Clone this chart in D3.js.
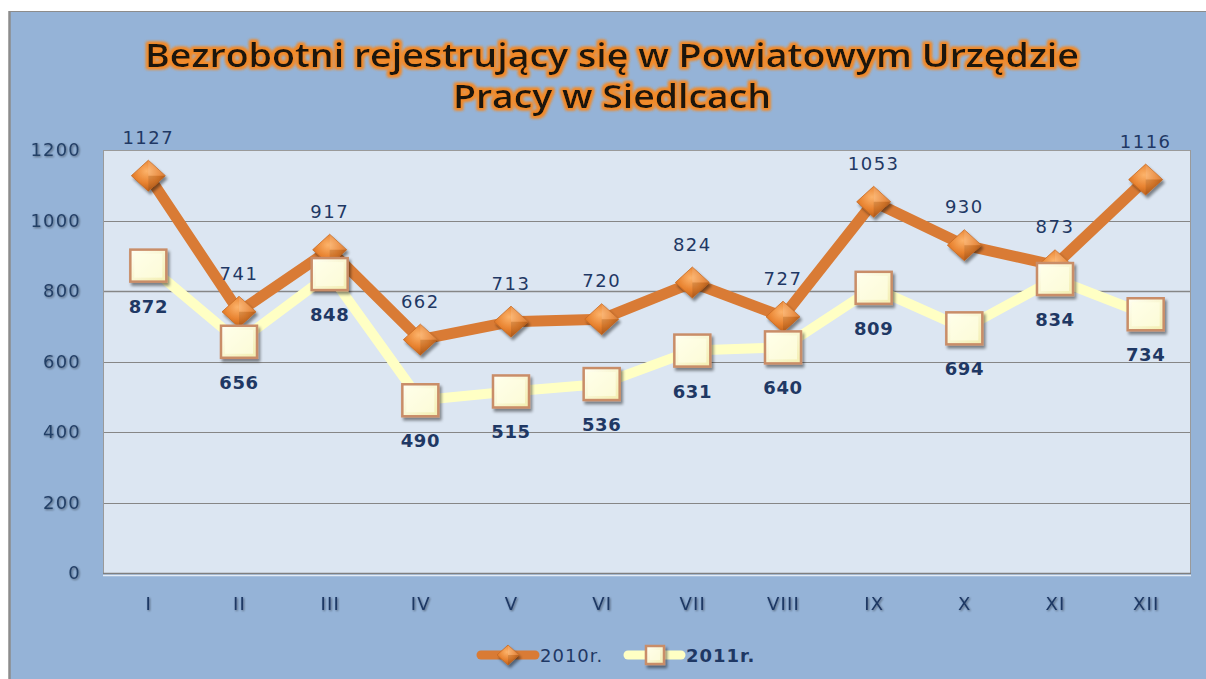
<!DOCTYPE html>
<html><head><meta charset="utf-8">
<script src="https://cdn.jsdelivr.net/npm/d3@7"></script>
<style>html,body{margin:0;padding:0;background:#fff;}svg{display:block;}</style>
</head><body>
<script>
const categories = ["I","II","III","IV","V","VI","VII","VIII","IX","X","XI","XII"];
const values2010 = [1127,741,917,662,713,720,824,727,1053,930,873,1116];
const values2011 = [872,656,848,490,515,536,631,640,809,694,834,734];
const yTicks = [0,200,400,600,800,1000,1200];
const seriesNames = ["2010r.","2011r."];
const titleLines = ["Bezrobotni rejestrujący się w Powiatowym Urzędzie","Pracy w Siedlcach"];

const W=1206,H=679;
const svg=d3.select("body").append("svg").attr("width",W).attr("height",H);
const defs=svg.append("defs");

// filters
const glow=defs.append("filter").attr("id","glow").attr("x","-5%").attr("y","-30%").attr("width","110%").attr("height","160%");
glow.append("feMorphology").attr("in","SourceAlpha").attr("operator","dilate").attr("radius",1.5).attr("result","d");
glow.append("feGaussianBlur").attr("in","d").attr("stdDeviation",1.5).attr("result","b");
glow.append("feFlood").attr("flood-color","#f28a2a").attr("result","f");
glow.append("feComposite").attr("in","f").attr("in2","b").attr("operator","in").attr("result","g");
const gm=glow.append("feMerge");gm.append("feMergeNode").attr("in","g");gm.append("feMergeNode").attr("in","g");gm.append("feMergeNode").attr("in","SourceGraphic");

const sh=defs.append("filter").attr("id","tshadow").attr("x","-20%").attr("y","-30%").attr("width","150%").attr("height","170%");
sh.append("feGaussianBlur").attr("in","SourceAlpha").attr("stdDeviation",0.8).attr("result","b");
sh.append("feOffset").attr("in","b").attr("dx",1).attr("dy",1.2).attr("result","o");
sh.append("feComponentTransfer").attr("in","o").attr("result","o2").append("feFuncA").attr("type","linear").attr("slope",0.45);
const sm=sh.append("feMerge");sm.append("feMergeNode").attr("in","o2");sm.append("feMergeNode").attr("in","SourceGraphic");

const msh=defs.append("filter").attr("id","mshadow").attr("x","-40%").attr("y","-40%").attr("width","190%").attr("height","190%");
msh.append("feGaussianBlur").attr("in","SourceAlpha").attr("stdDeviation",1.5).attr("result","b");
msh.append("feOffset").attr("in","b").attr("dx",2).attr("dy",2.5).attr("result","o");
msh.append("feComponentTransfer").attr("in","o").attr("result","o2").append("feFuncA").attr("type","linear").attr("slope",0.45);
const mm=msh.append("feMerge");mm.append("feMergeNode").attr("in","o2");mm.append("feMergeNode").attr("in","SourceGraphic");

const dg=defs.append("radialGradient").attr("id","dgrad").attr("cx","45%").attr("cy","35%").attr("r","70%");
dg.append("stop").attr("offset","0%").attr("stop-color","#fcb36b");
dg.append("stop").attr("offset","55%").attr("stop-color","#e8822f");
dg.append("stop").attr("offset","100%").attr("stop-color","#b85a17");

const sg=defs.append("linearGradient").attr("id","sgrad").attr("x1","0").attr("y1","0").attr("x2","1").attr("y2","1");
sg.append("stop").attr("offset","0%").attr("stop-color","#fffff4");
sg.append("stop").attr("offset","100%").attr("stop-color","#f3eeb0");

// background
svg.append("rect").attr("x",0).attr("y",0).attr("width",W).attr("height",H).attr("fill","#fff");
svg.append("rect").attr("x",9).attr("y",11).attr("width",W-9).attr("height",H-11).attr("fill","#95b3d7");
svg.append("line").attr("x1",9.5).attr("x2",9.5).attr("y1",11).attr("y2",H).attr("stroke","#8c8c8c").attr("stroke-width",2.5);
svg.append("line").attr("x1",9).attr("x2",W).attr("y1",11.5).attr("y2",11.5).attr("stroke","#8c8c8c").attr("stroke-width",1.2);

// title
const title=svg.append("g").attr("filter","url(#glow)");
title.append("text").attr("x",612).attr("y",67).attr("text-anchor","middle")
  .attr("font-family","Open Sans").attr("font-weight",600).attr("font-size",32).attr("fill","#1a1208")
  .attr("textLength",934).attr("lengthAdjust","spacingAndGlyphs").text(titleLines[0]);
title.append("text").attr("x",612).attr("y",108).attr("text-anchor","middle")
  .attr("font-family","Open Sans").attr("font-weight",600).attr("font-size",32).attr("fill","#1a1208")
  .attr("textLength",318).attr("lengthAdjust","spacingAndGlyphs").text(titleLines[1]);

// plot
const L=103,R=1191,T=150,B=573;
const x=d3.scalePoint().domain(categories).range([L,R]).padding(0.5);
const y=d3.scaleLinear().domain([0,1200]).range([B,T]);

svg.append("rect").attr("x",L).attr("y",T).attr("width",R-L).attr("height",B-T).attr("fill","#dce6f2");
svg.append("g").selectAll("line").data(yTicks.filter(d=>d>0&&d<1200)).join("line")
  .attr("x1",L).attr("x2",R).attr("y1",d=>Math.round(y(d))+0.5).attr("y2",d=>Math.round(y(d))+0.5)
  .attr("stroke","#868686").attr("stroke-width",d=>d===800?1.6:1);
svg.append("rect").attr("x",L+0.5).attr("y",T+0.5).attr("width",R-L-1).attr("height",B-T).attr("fill","none").attr("stroke","#9a9a9a");
svg.append("line").attr("x1",L).attr("x2",R).attr("y1",B+0.5).attr("y2",B+0.5).attr("stroke","#7f7f7f").attr("stroke-width",1.5);
svg.append("line").attr("x1",L).attr("x2",R).attr("y1",B+2.5).attr("y2",B+2.5).attr("stroke","#e4ecf6").attr("stroke-width",1.5);

// axes via d3
const yAxis=svg.append("g").attr("transform",`translate(${L},0)`).call(d3.axisLeft(y).tickValues(yTicks).tickFormat(d3.format("d")).tickSize(0).tickPadding(22));
yAxis.select(".domain").remove();
yAxis.selectAll("text").attr("font-family","DejaVu Sans").attr("font-size",18).attr("letter-spacing",1.2).attr("fill","#243f66").attr("filter","url(#tshadow)");
const xAxis=svg.append("g").attr("transform",`translate(0,${B})`).call(d3.axisBottom(x).tickSize(0).tickPadding(24));
xAxis.select(".domain").remove();
xAxis.selectAll("text").attr("font-family","DejaVu Sans").attr("font-size",18).attr("letter-spacing",1.2).attr("fill","#1f3864").attr("filter","url(#tshadow)");

// lines
const line=d3.line().x((d,i)=>x(categories[i])).y(d=>y(d));
svg.append("path").attr("d",line(values2010)).attr("fill","none").attr("stroke","#d97b35").attr("stroke-width",11).attr("stroke-linejoin","round");
function diamond(g,cx,cy,w,h){
  g.append("path").attr("d",`M${cx},${cy-h/2}L${cx+w/2},${cy}L${cx},${cy+h/2}L${cx-w/2},${cy}Z`)
   .attr("fill","url(#dgrad)").attr("stroke","#c66a22").attr("stroke-width",0.8).attr("filter","url(#mshadow)");
  g.append("path").attr("d",`M${cx},${cy-h/2}L${cx+w/2},${cy}L${cx},${cy}Z`).attr("fill","#ffffff").attr("opacity",0.12);
  g.append("path").attr("d",`M${cx},${cy+h/2}L${cx+w/2},${cy}L${cx},${cy}Z`).attr("fill","#000").attr("opacity",0.1);
}
const m10=svg.append("g");
values2010.forEach((v,i)=>diamond(m10,x(categories[i]),y(v),34,31));

svg.append("path").attr("d",line(values2011)).attr("fill","none").attr("stroke","#ffffc4").attr("stroke-width",10).attr("stroke-linejoin","round");
function square(g,cx,cy,w,h){
  g.append("rect").attr("x",cx-w/2).attr("y",cy-h/2).attr("width",w).attr("height",h)
   .attr("fill","url(#sgrad)").attr("stroke","#c98d68").attr("stroke-width",2.5).attr("filter","url(#mshadow)");
  g.append("rect").attr("x",cx-w/2+4).attr("y",cy-h/2+4).attr("width",w-8).attr("height",h-8).attr("fill","#ffffe6").attr("opacity",0.7);
}
const m11=svg.append("g");
values2011.forEach((v,i)=>square(m11,x(categories[i]),y(v),36,32));

// data labels
svg.append("g").selectAll("text").data(values2010).join("text")
  .attr("x",(d,i)=>x(categories[i])).attr("y",d=>y(d)-32).attr("text-anchor","middle")
  .attr("font-family","DejaVu Sans").attr("font-size",18).attr("letter-spacing",1.5).attr("fill","#1f3864").text(d=>d);
svg.append("g").selectAll("text").data(values2011).join("text")
  .attr("x",(d,i)=>x(categories[i])).attr("y",d=>y(d)+47).attr("text-anchor","middle")
  .attr("font-family","DejaVu Sans").attr("font-weight","bold").attr("font-size",18).attr("letter-spacing",0.6).attr("fill","#1f3864").text(d=>d);

// legend
const lg=svg.append("g");
lg.append("line").attr("x1",481).attr("x2",535).attr("y1",655).attr("y2",655).attr("stroke","#d97b35").attr("stroke-width",9).attr("stroke-linecap","round");
diamond(lg,508,655,22,20);
lg.append("text").attr("x",540).attr("y",662).attr("font-family","DejaVu Sans").attr("font-size",18).attr("letter-spacing",1).attr("fill","#1f3864").text(seriesNames[0]);
lg.append("line").attr("x1",628).attr("x2",681).attr("y1",655).attr("y2",655).attr("stroke","#ffffc4").attr("stroke-width",9).attr("stroke-linecap","round");
square(lg,655,655,18,18);
lg.append("text").attr("x",686).attr("y",662).attr("font-family","DejaVu Sans").attr("font-weight","bold").attr("font-size",18).attr("letter-spacing",1).attr("fill","#1f3864").text(seriesNames[1]);
</script>
</body></html>
